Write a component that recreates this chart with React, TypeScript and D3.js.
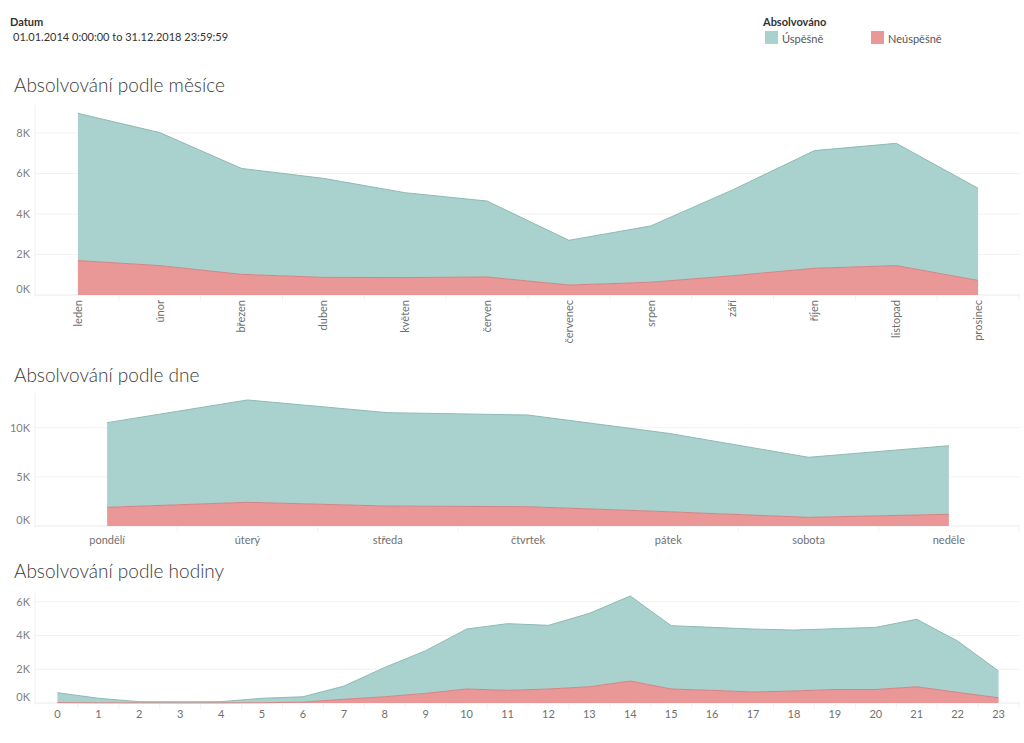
import React, { useEffect, useRef } from "react";
import * as d3 from "d3";

const months = ["leden", "únor", "březen", "duben", "květen", "červen", "červenec", "srpen", "září", "říjen", "listopad", "prosinec"];
const monthSuccess = [7270, 6570, 5230, 4890, 4190, 3750, 2210, 2780, 4240, 5810, 6040, 4550];
const monthFail = [1700, 1450, 1020, 870, 860, 890, 490, 630, 950, 1320, 1450, 720];
const monthTicks = [0, 2000, 4000, 6000, 8000];

const days = ["pondělí", "úterý", "středa", "čtvrtek", "pátek", "sobota", "neděle"];
const daySuccess = [8610, 10410, 9500, 9330, 7980, 6110, 6980];
const dayFail = [1900, 2410, 2030, 1960, 1450, 880, 1190];
const dayTicks = [0, 5000, 10000];

const hours = ["0", "1", "2", "3", "4", "5", "6", "7", "8", "9", "10", "11", "12", "13", "14", "15", "16", "17", "18", "19", "20", "21", "22", "23"];
const hourSuccess = [590, 270, 75, 65, 75, 265, 320, 780, 1740, 2530, 3550, 3950, 3770, 4350, 5040, 3750, 3730, 3730, 3610, 3600, 3680, 4000, 3040, 1590];
const hourFail = [20, 10, 5, 5, 5, 15, 50, 220, 370, 570, 830, 750, 830, 960, 1300, 830, 750, 650, 710, 800, 800, 960, 630, 310];
const hourTicks = [0, 2000, 4000, 6000];

const legendItems = ["Úspěšně", "Neúspěšně"];

const FONT = "Lato, 'Open Sans', sans-serif";
const TEAL = "#a9d1cd";
const TEAL_LINE = "#8fbab5";
const RED = "#ea9797";
const RED_LINE = "#d48383";

interface Panel {
  title: string;
  titleY: number;
  cats: string[];
  success: number[];
  fail: number[];
  ticks: number[];
  baseline: number;
  refVal: number;
  refPx: number;
  top: number;
  rotate: boolean;
  labelY: number;
}

const panels: Panel[] = [
  { title: "Absolvování podle měsíce", titleY: 92, cats: months, success: monthSuccess, fail: monthFail, ticks: monthTicks, baseline: 295, refVal: 8000, refPx: 133, top: 105, rotate: true, labelY: 300 },
  { title: "Absolvování podle dne", titleY: 382, cats: days, success: daySuccess, fail: dayFail, ticks: dayTicks, baseline: 526, refVal: 10000, refPx: 427.7, top: 393, rotate: false, labelY: 544 },
  { title: "Absolvování podle hodiny", titleY: 578, cats: hours, success: hourSuccess, fail: hourFail, ticks: hourTicks, baseline: 703, refVal: 6000, refPx: 601.7, top: 593, rotate: false, labelY: 718 },
];

export default function App() {
  const ref = useRef<SVGSVGElement>(null);

  useEffect(() => {
    const svg = d3.select(ref.current);
    svg.selectAll("*").remove();

    // header
    svg.append("text").attr("x", 10).attr("y", 26).attr("font-family", FONT).attr("font-size", 11).attr("font-weight", "bold").attr("fill", "#333").text("Datum");
    svg.append("text").attr("x", 13).attr("y", 41).attr("font-family", FONT).attr("font-size", 11).attr("fill", "#333").text("01.01.2014 0:00:00 to 31.12.2018 23:59:59");

    // legend
    svg.append("text").attr("x", 763).attr("y", 26).attr("font-family", FONT).attr("font-size", 11).attr("font-weight", "bold").attr("fill", "#333").text("Absolvováno");
    const legendX = d3.scaleOrdinal<string, number>().domain(legendItems).range([765, 871]);
    const legendC = d3.scaleOrdinal<string, string>().domain(legendItems).range([TEAL, RED]);
    legendItems.forEach((k) => {
      svg.append("rect").attr("x", legendX(k)).attr("y", 31).attr("width", 13).attr("height", 13).attr("fill", legendC(k));
      svg.append("text").attr("x", legendX(k) + 17).attr("y", 43).attr("font-family", FONT).attr("font-size", 11).attr("fill", "#555").text(k);
    });

    panels.forEach((p) => {
      const g = svg.append("g");
      g.append("text").attr("x", 14).attr("y", p.titleY).attr("font-family", FONT).attr("font-size", 19).attr("font-weight", 300).attr("fill", "#3a3a3a").text(p.title);

      const x = d3.scaleBand<string>().domain(p.cats).range([37, 1019]).padding(0);
      const cx = (c: string) => (x(c) as number) + x.bandwidth() / 2;
      const y = d3.scaleLinear().domain([0, p.refVal]).range([p.baseline, p.refPx]);

      // gridlines
      p.ticks.forEach((t) => {
        g.append("line").attr("x1", 35).attr("x2", 1020).attr("y1", y(t)).attr("y2", y(t))
          .attr("stroke", t === 0 ? "#ebebeb" : "#f2f2f2").attr("stroke-width", 1);
        g.append("text").attr("x", 30).attr("y", t === 0 ? y(t) - 6 : y(t)).attr("dy", "0.35em")
          .attr("text-anchor", "end").attr("font-family", FONT).attr("font-size", 11).attr("fill", "#808080")
          .text(`${t / 1000}K`);
      });
      g.append("line").attr("x1", 35).attr("x2", 35).attr("y1", p.top).attr("y2", p.baseline + 2).attr("stroke", "#efefef");

      // band ticks
      p.cats.forEach((c, i) => {
        if (i === 0) return;
        const bx = x(c) as number;
        g.append("line").attr("x1", bx).attr("x2", bx).attr("y1", p.baseline + 1).attr("y2", p.baseline + 6).attr("stroke", "#f2f2f2");
      });
      g.append("line").attr("x1", 1019).attr("x2", 1019).attr("y1", p.baseline + 1).attr("y2", p.baseline + 6).attr("stroke", "#f2f2f2");

      const rows = p.cats.map((c, i) => ({ cat: c, fail: p.fail[i], success: p.success[i] }));
      const stack = d3.stack<any>().keys(["fail", "success"]);
      const series = stack(rows);
      const area = d3.area<any>().x((d) => cx(d.data.cat)).y0((d) => y(d[0])).y1((d) => y(d[1]));
      const line = d3.line<any>().x((d) => cx(d.data.cat)).y((d) => y(d[1]));
      const fills = [RED, TEAL];
      const strokes = [RED_LINE, TEAL_LINE];
      series.forEach((s, i) => {
        g.append("path").attr("d", area(s) as string).attr("fill", fills[i]);
      });
      series.forEach((s, i) => {
        g.append("path").attr("d", line(s) as string).attr("fill", "none").attr("stroke", strokes[i]).attr("stroke-width", 1);
      });

      // x labels
      p.cats.forEach((c) => {
        if (p.rotate) {
          g.append("text").attr("transform", `translate(${cx(c)},${p.labelY}) rotate(-90)`)
            .attr("text-anchor", "end").attr("dy", "0.35em").attr("font-family", FONT).attr("font-size", 11).attr("fill", "#707070").text(c);
        } else {
          g.append("text").attr("x", cx(c)).attr("y", p.labelY).attr("text-anchor", "middle")
            .attr("font-family", FONT).attr("font-size", 11).attr("fill", "#707070").text(c);
        }
      });
    });
  }, []);

  return (
    <svg ref={ref} width={1024} height={743} style={{ position: "absolute", left: 0, top: 0, background: "#fff" }} />
  );
}
